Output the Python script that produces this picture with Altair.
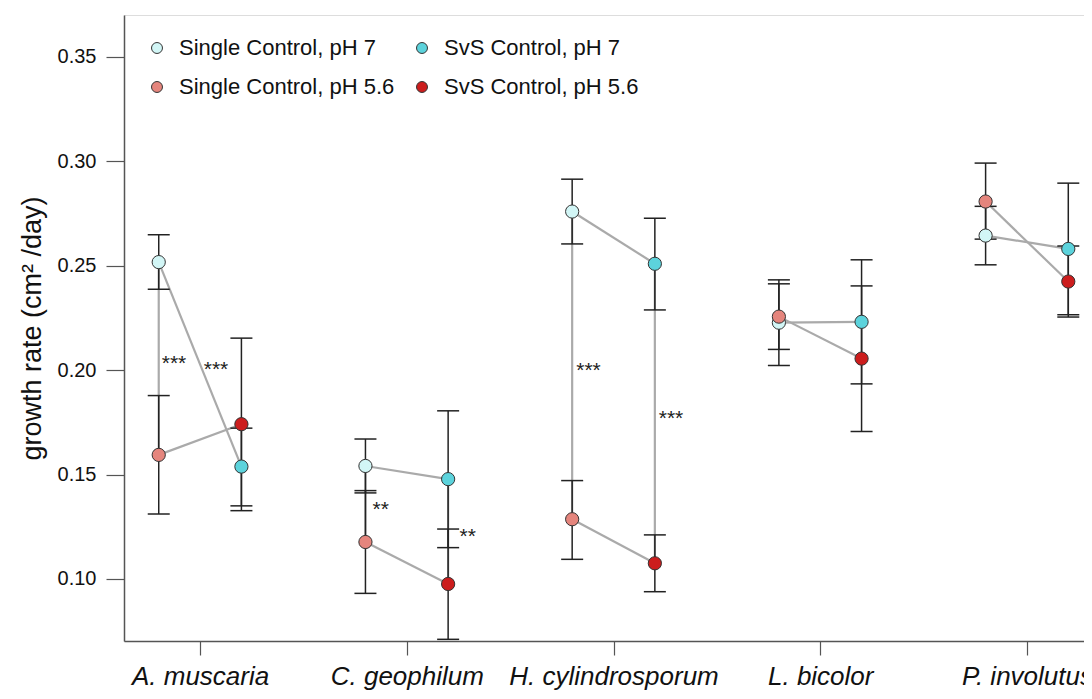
import altair as alt
import pandas as pd

species = ["A. muscaria", "C. geophilum", "H. cylindrosporum", "L. bicolor", "P. involutus"]
groups = ["Single Control, pH 7", "SvS Control, pH 7", "Single Control, pH 5.6", "SvS Control, pH 5.6"]
group_colors = ["#d2f6f6", "#5cd3dc", "#e5857d", "#cc1d1d"]

single_ph7 = [0.2517, 0.1541, 0.2759, 0.2227, 0.2644]
single_ph7_lo = [0.2387, 0.1412, 0.2604, 0.2022, 0.2504]
single_ph7_hi = [0.2648, 0.1670, 0.2914, 0.2432, 0.2784]

svs_ph7 = [0.1538, 0.1478, 0.2509, 0.2231, 0.2580]
svs_ph7_lo = [0.1350, 0.1150, 0.2288, 0.1934, 0.2265]
svs_ph7_hi = [0.1722, 0.1805, 0.2727, 0.2528, 0.2895]

single_ph56 = [0.1594, 0.1177, 0.1286, 0.2256, 0.2807]
single_ph56_lo = [0.1311, 0.0931, 0.1094, 0.2099, 0.2627]
single_ph56_hi = [0.1878, 0.1423, 0.1471, 0.2413, 0.2991]

svs_ph56 = [0.1741, 0.0976, 0.1075, 0.2055, 0.2424]
svs_ph56_lo = [0.1327, 0.0711, 0.0939, 0.1706, 0.2254]
svs_ph56_hi = [0.2153, 0.1239, 0.1211, 0.2403, 0.2594]

# significance brackets (species index, side)
sig_species = [0, 1, 1, 2, 2]
sig_side = ["Single", "Single", "SvS", "Single", "SvS"]

# asterisk annotations (data coordinates)
star_x = [0.874, 1.077, 1.874, 2.295, 2.879, 3.278]
star_y = [0.2054, 0.2025, 0.1354, 0.1225, 0.2020, 0.1790]
star_label = ["***", "***", "**", "**", "***", "***"]

offset = {"Single": -0.2, "SvS": 0.2}

rows = []
series = [
    ("Single Control, pH 7", "Single", "7", single_ph7, single_ph7_lo, single_ph7_hi),
    ("SvS Control, pH 7", "SvS", "7", svs_ph7, svs_ph7_lo, svs_ph7_hi),
    ("Single Control, pH 5.6", "Single", "5.6", single_ph56, single_ph56_lo, single_ph56_hi),
    ("SvS Control, pH 5.6", "SvS", "5.6", svs_ph56, svs_ph56_lo, svs_ph56_hi),
]
for g, side, ph, m, lo, hi in series:
    for i, sp in enumerate(species):
        rows.append({"species": sp, "group": g, "side": side, "ph": ph,
                     "x": i + 1 + offset[side], "y": m[i], "lo": lo[i], "hi": hi[i]})
df = pd.DataFrame(rows)

sig_rows = []
for si, side in zip(sig_species, sig_side):
    if side == "Single":
        a, b = single_ph7[si], single_ph56[si]
    else:
        a, b = svs_ph7[si], svs_ph56[si]
    sig_rows.append({"x": si + 1 + offset[side], "y": a, "y2": b})
sig_df = pd.DataFrame(sig_rows)

star_df = pd.DataFrame({"x": star_x, "y": star_y, "t": star_label})

FONT = "Liberation Sans"
xscale = alt.Scale(domain=[0.632, 5.276], nice=False, zero=False)
yscale = alt.Scale(domain=[0.0703, 0.370], nice=False, zero=False)

labexpr = "[" + ",".join("'" + s + "'" for s in species) + "][datum.value - 1]"

X = alt.X("x:Q", scale=xscale,
          axis=alt.Axis(values=[1, 2, 3, 4, 5], labelExpr=labexpr, title=None, grid=False,
                        labelFontStyle="italic", labelFontSize=26, labelFont=FONT,
                        labelColor="#111", tickSize=14, tickColor="#555", domainColor="#555",
                        domainWidth=1.5, tickWidth=1.2, labelPadding=8, labelFlush=False,
                        labelOverlap=False, labelLimit=500))
Y = alt.Y("y:Q", scale=yscale,
          axis=alt.Axis(values=[0.10, 0.15, 0.20, 0.25, 0.30, 0.35], format=".2f",
                        title="growth rate (cm² /day)", titleFontSize=27, titleFont=FONT,
                        titleFontWeight="normal", titleColor="#111", titlePadding=11,
                        labelFontSize=20, labelFont=FONT, labelColor="#111", labelPadding=10,
                        tickSize=18, tickColor="#555", tickWidth=1.2, domainColor="#555",
                        domainWidth=1.5, grid=False))

base = alt.Chart(df)

conn = base.mark_line(color="#aaaaaa", strokeWidth=2.2).encode(
    x=X, y=Y, detail=["species:N", "ph:N"], order="x:Q")

sig = alt.Chart(sig_df).mark_rule(color="#aaaaaa", strokeWidth=2.2).encode(
    x="x:Q", y="y:Q", y2="y2:Q")

err = base.mark_rule(color="#222222", strokeWidth=1.5).encode(
    x="x:Q", y="lo:Q", y2="hi:Q")

cap_lo = base.mark_rule(color="#222222", strokeWidth=1.5, xOffset=-11, x2Offset=11).encode(
    x="x:Q", x2="x:Q", y="lo:Q")
cap_hi = base.mark_rule(color="#222222", strokeWidth=1.5, xOffset=-11, x2Offset=11).encode(
    x="x:Q", x2="x:Q", y="hi:Q")

pts = base.mark_point(filled=True, shape="circle", size=175, stroke="#333333",
                      strokeWidth=1, opacity=1).encode(
    x="x:Q", y="y:Q",
    color=alt.Color("group:N",
                    scale=alt.Scale(domain=groups, range=group_colors),
                    legend=alt.Legend(orient="none", legendX=22, legendY=22, columns=2,
                                      direction="horizontal", gridAlign="none", title=None,
                                      labelFontSize=22, labelFont=FONT, labelColor="#111",
                                      symbolSize=120, symbolType="circle",
                                      symbolStrokeColor="#333333", symbolStrokeWidth=1,
                                      labelOffset=11, columnPadding=16, rowPadding=17,
                                      padding=0, labelLimit=400)))

stars = alt.Chart(star_df).mark_text(fontSize=21, font=FONT, color="#222",
                                     baseline="alphabetic", dy=11).encode(
    x="x:Q", y="y:Q", text="t:N")

chart = alt.layer(conn, sig, err, cap_lo, cap_hi, pts, stars).properties(
    width=960, height=626,
    autosize=alt.AutoSizeParams(type="none"),
    padding={"left": 116, "top": 7, "right": 0, "bottom": 50},
).configure_view(stroke=None).configure(font=FONT)

chart.save("out.html", embed_options={"renderer": "svg", "actions": False})
